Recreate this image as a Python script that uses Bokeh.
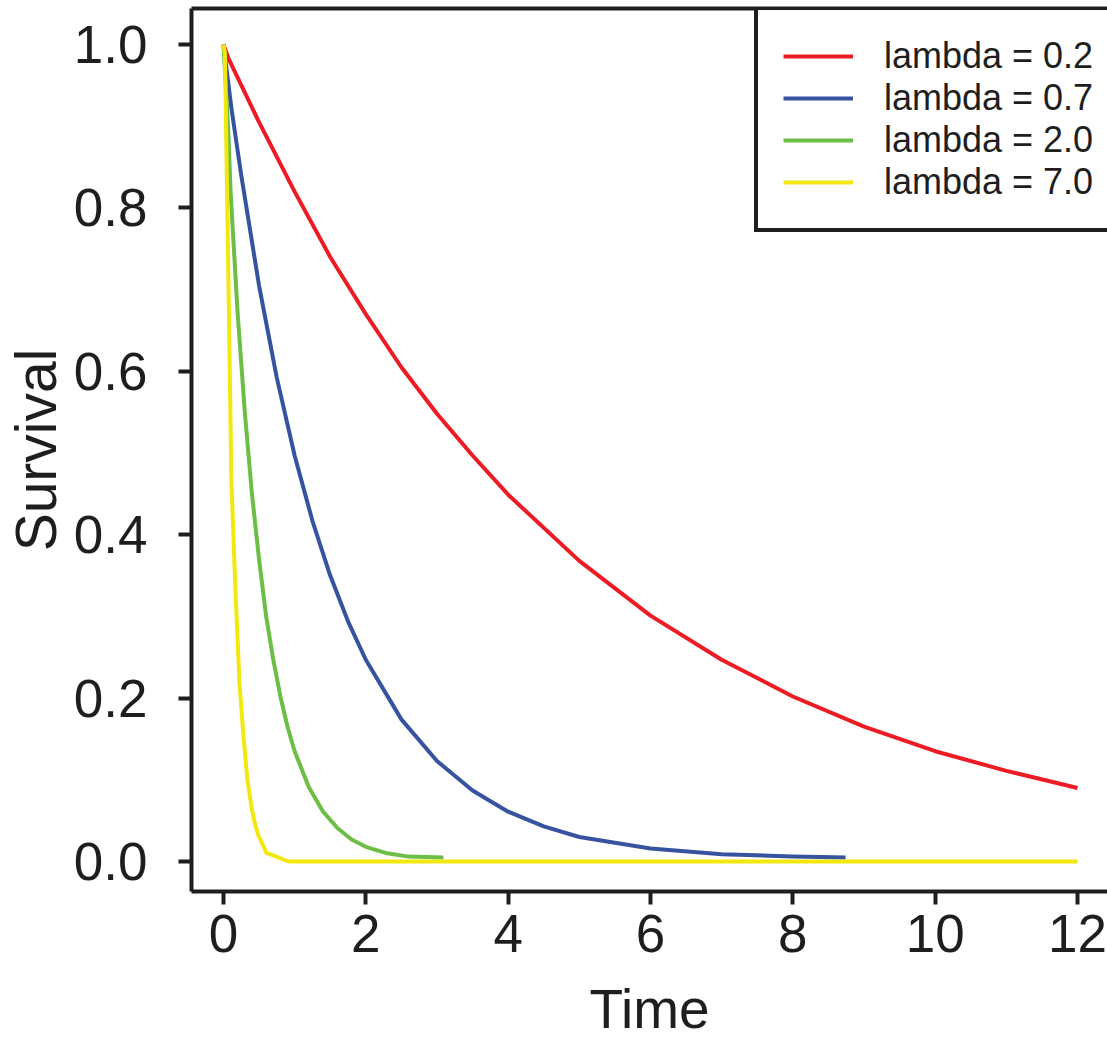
from bokeh.plotting import figure
from bokeh.models import (Range1d, FixedTicker, PrintfTickFormatter, LinearAxis, Legend,
                          LegendItem)
from bokeh.embed import file_html
from bokeh.resources import INLINE

# ---- data ----
red_t = [0, 0.07, 0.5, 1.0, 1.5, 2.0, 2.5, 3.0, 3.5, 4.0, 5.0, 6.0, 7.0, 8.0, 9.0, 10.0, 11.0, 12.0]
red_s = [1.0, 0.983, 0.905, 0.82, 0.74, 0.67, 0.605, 0.548, 0.497, 0.449, 0.368, 0.301, 0.247,
         0.202, 0.165, 0.135, 0.111, 0.09]

blue_t = [0, 0.112, 0.25, 0.5, 0.75, 1.0, 1.25, 1.5, 1.75, 2.0, 2.5, 3.0, 3.5, 4.0, 4.5, 5.0,
          6.0, 7.0, 8.0, 8.74]
blue_s = [1.0, 0.922, 0.84, 0.705, 0.592, 0.497, 0.417, 0.35, 0.294, 0.247, 0.174, 0.123, 0.087,
          0.061, 0.043, 0.03, 0.016, 0.009, 0.006, 0.005]

green_t = [0, 0.07, 0.1, 0.2, 0.3, 0.4, 0.5, 0.6, 0.7, 0.8, 0.9, 1.0, 1.2, 1.4, 1.6, 1.8, 2.0,
           2.3, 2.6, 3.09]
green_s = [1.0, 0.89, 0.82, 0.67, 0.55, 0.45, 0.37, 0.30, 0.247, 0.202, 0.165, 0.135, 0.091,
           0.061, 0.041, 0.027, 0.018, 0.01, 0.006, 0.005]

yellow_t = [0, 0.02, 0.070, 0.112, 0.168, 0.225, 0.281, 0.337, 0.393, 0.435, 0.491, 0.547,
            0.60, 0.77, 0.91, 12.0]
yellow_s = [1.0, 0.99, 0.711, 0.465, 0.333, 0.219, 0.153, 0.100, 0.067, 0.049, 0.032, 0.022,
            0.011, 0.005, 0.0, 0.0]

series_labels = ["lambda = 0.2", "lambda = 0.7", "lambda = 2.0", "lambda = 7.0"]
series_colors = ["#ED1C24", "#3653A0", "#6CBE45", "#F2E80F"]

x_ticks = [0, 2, 4, 6, 8, 10, 12]
y_ticks = [0.0, 0.2, 0.4, 0.6, 0.8, 1.0]
x_title = "Time"
y_title = "Survival"

ink = "#1e1e1e"
font = "Liberation Sans"

p = figure(width=1107, height=1042, output_backend="svg", toolbar_location=None,
           x_range=Range1d(-0.449, 12.421), y_range=Range1d(-0.0367, 1.0441),
           min_border_left=190, min_border_right=0, min_border_top=8, min_border_bottom=151,
           x_axis_label=x_title, y_axis_label=y_title)
p.grid.visible = False
p.outline_line_color = None
p.background_fill_color = "white"
p.border_fill_color = "white"

for ax in (p.xaxis[0], p.yaxis[0]):
    ax.axis_line_width = 4
    ax.axis_line_color = ink
    ax.major_tick_line_width = 4
    ax.major_tick_line_color = ink
    ax.major_tick_out = 13
    ax.major_tick_in = 0
    ax.minor_tick_line_color = None
    ax.major_label_text_font = font
    ax.major_label_text_font_size = "53px"
    ax.major_label_text_color = ink
    ax.axis_label_text_font = font
    ax.axis_label_text_font_style = "normal"
    ax.axis_label_text_color = ink

p.xaxis[0].ticker = FixedTicker(ticks=x_ticks)
p.yaxis[0].ticker = FixedTicker(ticks=y_ticks)
p.yaxis[0].formatter = PrintfTickFormatter(format="%.1f")
p.xaxis[0].major_label_standoff = 10
p.xaxis[0].axis_label_text_font_size = "55px"
p.xaxis[0].axis_label_standoff = 23
p.yaxis[0].major_label_standoff = 31
p.yaxis[0].axis_label_text_font_size = "57px"
p.yaxis[0].axis_label_standoff = 3

top = LinearAxis(ticker=FixedTicker(ticks=[]), major_label_text_font_size="0px",
                 major_tick_out=0, major_tick_in=0, minor_tick_out=0, minor_tick_in=0,
                 axis_line_width=4, axis_line_color=ink, major_label_standoff=0,
                 axis_label_standoff=0)
p.add_layout(top, "above")

renderers = []
for t, s, c in zip([red_t, blue_t, green_t, yellow_t], [red_s, blue_s, green_s, yellow_s],
                   series_colors):
    r = p.line(t, s, line_color=c, line_width=4, line_join="round")
    renderers.append(r)

legend = Legend(items=[LegendItem(label=lab, renderers=[r]) for lab, r in zip(series_labels, renderers)],
                location=(563, 659), padding=25, spacing=0, margin=0,
                glyph_width=70, glyph_height=42, label_height=42, label_standoff=31,
                label_text_font=font, label_text_font_size="36px", label_text_color=ink,
                border_line_color=ink, border_line_width=4, border_line_alpha=1.0,
                background_fill_color="white", background_fill_alpha=1.0)
p.add_layout(legend)

open("out.html", "w").write(file_html(p, INLINE))
